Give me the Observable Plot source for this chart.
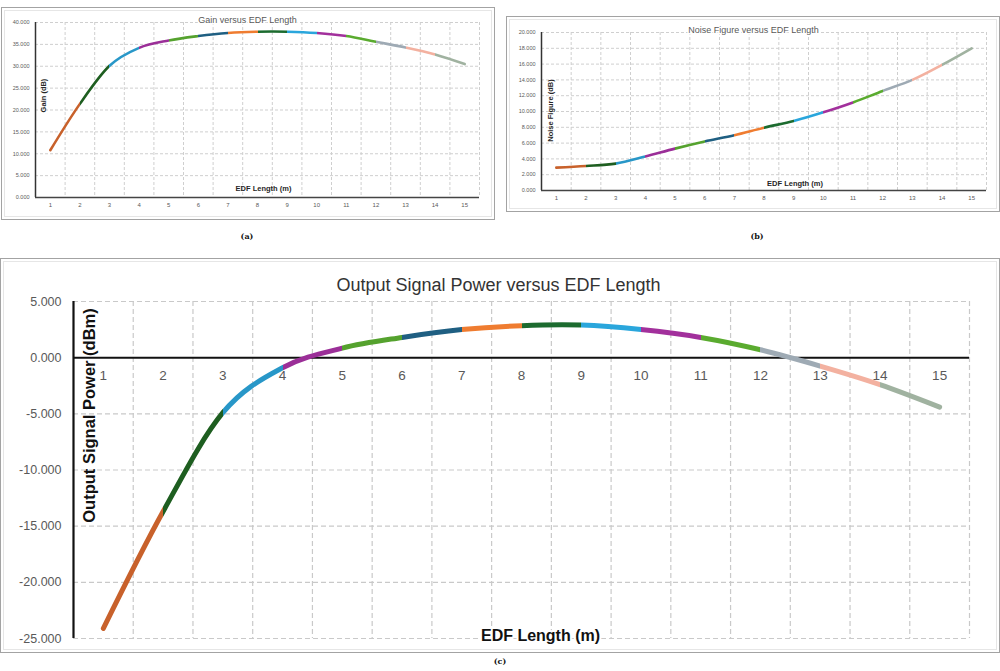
<!DOCTYPE html>
<html><head><meta charset="utf-8">
<script src="https://cdn.jsdelivr.net/npm/d3@7"></script>
<script src="https://cdn.jsdelivr.net/npm/@observablehq/plot@0.6"></script>
<style>
body{margin:0;background:#fff;width:1000px;height:671px;position:relative;overflow:hidden;font-family:"Liberation Sans",Arial,sans-serif}
.box{position:absolute;border:1.5px solid #a3a3a3;box-sizing:border-box}
.box::after{content:"";position:absolute;left:2px;top:2px;right:2px;bottom:2px;border:1.5px solid #e6e6e6}
.chart{position:absolute}
.cap{position:absolute;font-family:"DejaVu Serif","Liberation Serif",serif;font-weight:bold;font-size:8px;transform:translate(-50%,-50%);color:#111}
</style></head>
<body>
<div class="box" style="left:1px;top:7px;width:494px;height:213px"></div>
<div class="box" style="left:506px;top:16px;width:494px;height:196px"></div>
<div class="box" style="left:0px;top:258px;width:1000px;height:395px"></div>
<div id="a" class="chart" style="left:0;top:0"></div>
<div id="b" class="chart" style="left:500px;top:0"></div>
<div id="c" class="chart" style="left:0;top:250px"></div>
<div class="cap" style="left:247px;top:236px">(a)</div>
<div class="cap" style="left:757px;top:236px">(b)</div>
<div class="cap" style="left:500px;top:661px">(c)</div>
<script>
// ---- data ----
const lengths = [1, 2, 3, 4, 5, 6, 7, 8, 9, 10, 11, 12, 13, 14, 15];
const gain = [10.8, 21.4, 30.1, 34.2, 35.9, 36.9, 37.6, 37.9, 37.9, 37.6, 36.9, 35.6, 34.3, 32.7, 30.5];
const noiseFigure = [2.9, 3.1, 3.4, 4.3, 5.3, 6.2, 7.0, 7.95, 8.8, 9.9, 11.15, 12.6, 14.0, 15.9, 18.0];
const outputPower = [-24.1, -13.7, -4.9, -0.9, 0.85, 1.8, 2.5, 2.85, 2.9, 2.5, 1.8, 0.7, -0.75, -2.4, -4.4];
const segmentColors = ["#c8612b", "#1e5e20", "#2897c8", "#9b2f98", "#55a22e", "#1f5f82", "#ef7c30",
  "#1c6b2f", "#2aa6dc", "#a2309c", "#5aab2f", "#9eaab4", "#f3b1a0", "#a0b2a0"];
const gainTicks = [0, 5, 10, 15, 20, 25, 30, 35, 40];
const nfTicks = [0, 2, 4, 6, 8, 10, 12, 14, 16, 18, 20];
const powerTicks = [-25, -20, -15, -10, -5, 0, 5];

const boundaries = lengths.map(d => d - 0.5).concat([lengths[lengths.length - 1] + 0.5]);
const fmt = d => d.toFixed(3);
const font = "'Liberation Sans', Arial, sans-serif";

function gradientMark(id) {
  return (index, scales) => {
    const ns = "http://www.w3.org/2000/svg";
    const x0 = scales.x(lengths[0]), x1 = scales.x(lengths[lengths.length - 1]);
    const defs = document.createElementNS(ns, "defs");
    const lg = document.createElementNS(ns, "linearGradient");
    lg.setAttribute("id", id);
    lg.setAttribute("gradientUnits", "userSpaceOnUse");
    lg.setAttribute("x1", x0); lg.setAttribute("x2", x1);
    lg.setAttribute("y1", 0); lg.setAttribute("y2", 0);
    segmentColors.forEach((c, k) => {
      const o0 = (scales.x(lengths[k]) - x0) / (x1 - x0);
      const o1 = (scales.x(lengths[k + 1]) - x0) / (x1 - x0);
      for (const o of [o0, o1]) {
        const s = document.createElementNS(ns, "stop");
        s.setAttribute("offset", o);
        s.setAttribute("stop-color", c);
        lg.appendChild(s);
      }
    });
    defs.appendChild(lg);
    return defs;
  };
}

const centered = {textAnchor: "middle", lineAnchor: "middle"};

function smallChart({values, ticks, id, title, ylabel, margins, height, yl, xl, tl}) {
  const pts = lengths.map((x, i) => ({x, y: values[i]}));
  const top = ticks[ticks.length - 1];
  return Plot.plot({
    width: 500, height,
    marginLeft: margins[0], marginRight: margins[1], marginTop: margins[2], marginBottom: margins[3],
    style: {fontFamily: font, background: "transparent"},
    x: {domain: [boundaries[0], boundaries[boundaries.length - 1]]},
    y: {domain: [0, top]},
    marks: [
      gradientMark(id),
      Plot.ruleY(ticks.filter(d => d > 0), {stroke: "#cfcfcf", strokeDasharray: "3,2"}),
      Plot.ruleX(boundaries.slice(1), {stroke: "#cfcfcf", strokeDasharray: "3,2"}),
      Plot.ruleX([boundaries[0]], {stroke: "#333", strokeWidth: 1.5}),
      Plot.ruleY([0], {stroke: "#444", strokeWidth: 1.5}),
      Plot.axisY({ticks, tickSize: 0, tickPadding: 6, tickFormat: fmt, fontSize: 5.5, color: "#595959", label: null}),
      Plot.axisX({ticks: lengths, tickSize: 0, tickPadding: 5, fontSize: 6, color: "#595959", label: null}),
      Plot.line(pts, {x: "x", y: "y", curve: "cardinal", tension: 0, stroke: `url(#${id})`, strokeWidth: 2.6, strokeLinecap: "round"}),
      Plot.text([title], {...centered, frameAnchor: "top", dx: tl[0], dy: tl[1], fontSize: 9, fill: "#595959", stroke: "white", strokeWidth: 3}),
      Plot.text([ylabel], {...centered, frameAnchor: "top-left", dx: yl[0], dy: yl[1], rotate: -90, fontSize: 7.5, fontWeight: "bold", fill: "#262626"}),
      Plot.text(["EDF Length (m)"], {...centered, frameAnchor: "bottom", dx: xl[0], dy: xl[1], fontSize: 7.5, fontWeight: "bold", fill: "#262626"})
    ]
  });
}

document.getElementById("a").appendChild(smallChart({
  values: gain, ticks: gainTicks, id: "gradA", title: "Gain versus EDF Length", ylabel: "Gain (dB)",
  margins: [35, 21, 22, 23], height: 220, tl: [-10, -2], yl: [8, 73], xl: [6, -9]
}));
document.getElementById("b").appendChild(smallChart({
  values: noiseFigure, ticks: nfTicks, id: "gradB", title: "Noise Figure versus EDF Length", ylabel: "Noise Figure (dB)",
  margins: [41, 14, 32, 30], height: 220, tl: [-10.5, -2], yl: [9, 78], xl: [31, -7]
}));

const ptsC = lengths.map((x, i) => ({x, y: outputPower[i]}));
document.getElementById("c").appendChild(Plot.plot({
  width: 1000, height: 400,
  marginLeft: 73, marginRight: 31, marginTop: 51, marginBottom: 12,
  style: {fontFamily: font, background: "transparent"},
  x: {domain: [boundaries[0], boundaries[boundaries.length - 1]], axis: null},
  y: {domain: [powerTicks[0], powerTicks[powerTicks.length - 1]]},
  marks: [
    gradientMark("gradC"),
    Plot.ruleY(powerTicks.filter(d => d !== 0), {stroke: "#c9c9c9", strokeDasharray: "5,3", strokeWidth: 1.2}),
    Plot.ruleX(boundaries.slice(1), {stroke: "#c9c9c9", strokeDasharray: "5,3", strokeWidth: 1.2}),
    Plot.ruleX([boundaries[0]], {stroke: "#111", strokeWidth: 2.2}),
    Plot.ruleY([0], {stroke: "#111", strokeWidth: 2}),
    Plot.axisY({ticks: powerTicks, tickSize: 0, tickPadding: 12, tickFormat: fmt, fontSize: 12.5, color: "#595959", label: null}),
    Plot.text(lengths, {x: d => d, y: 0, dy: 18, fontSize: 13.5, fill: "#595959"}),
    Plot.line(ptsC, {x: "x", y: "y", curve: "cardinal", tension: 0, stroke: "url(#gradC)", strokeWidth: 5, strokeLinecap: "round"}),
    Plot.text(["Output Signal Power versus EDF Length"], {...centered, frameAnchor: "top", dx: -23, dy: -16, fontSize: 18, fill: "#333"}),
    Plot.text(["Output Signal Power (dBm)"], {...centered, frameAnchor: "top-left", dx: 16, dy: 114, rotate: -90, fontSize: 16.5, fontWeight: "bold", fill: "#111"}),
    Plot.text(["EDF Length (m)"], {...centered, frameAnchor: "bottom", dx: 19, dy: -3, fontSize: 16, fontWeight: "bold", fill: "#111", stroke: "white", strokeWidth: 4})
  ]
}));
</script>
</body></html>
